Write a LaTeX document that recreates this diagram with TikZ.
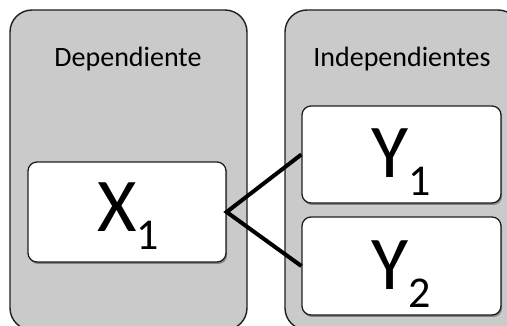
\documentclass[tikz,border=0pt]{standalone}
\usepackage{fontspec}
\setmainfont{Carlito}
\usetikzlibrary{shadows}
\definecolor{panelgray}{RGB}{202,202,202}
\definecolor{edgedark}{RGB}{30,30,30}
\tikzset{
  panel/.style={draw=edgedark, line width=1.4pt, fill=panelgray, rounded corners=22pt,
    inner sep=0pt},
  varbox/.style={draw=edgedark, line width=1.3pt, fill=white, rounded corners=9pt,
    inner sep=0pt, drop shadow={shadow xshift=1.2pt, shadow yshift=-2pt, opacity=0.35, fill=black}},
  paneltitle/.style={anchor=base, inner sep=0pt, font=\fontsize{28}{28}\selectfont},
  varlabel/.style={anchor=base, inner sep=0pt},
  link/.style={draw=black, line width=4pt, line join=miter}
}
\newcommand{\varname}[2]{{\fontsize{76}{76}\selectfont #1}\raisebox{-18pt}{\fontsize{44}{44}\selectfont #2}}
\begin{document}
\begin{tikzpicture}[x=1pt, y=-1pt]
  \useasboundingbox (0,0) rectangle (507,326);
  % group panels
  \node[panel, minimum width=237pt, minimum height=320pt] (pdep) at (128.5,170) {};
  \node[panel, minimum width=235pt, minimum height=320pt] (pind) at (402.5,170) {};
  \node[paneltitle] (tdep) at (128,67) {Dependiente};
  \node[paneltitle] (tind) at (402,67) {Independientes};
  % variable boxes
  \node[varbox, minimum width=198pt, minimum height=100pt] (bx1) at (127,212) {};
  \node[varbox, minimum width=199pt, minimum height=97pt] (by1) at (401.5,154.5) {};
  \node[varbox, minimum width=199pt, minimum height=98pt] (by2) at (401.5,266) {};
  \node[varlabel] (lx1) at (128,232) {\varname{X}{1}};
  \node[varlabel] (ly1) at (401,178) {\varname{Y}{1}};
  \node[varlabel] (ly2) at (401,290) {\varname{Y}{2}};
  % connectors
  \draw[link] (by1.west) -- (bx1.east) -- (by2.west);
\end{tikzpicture}
\end{document}
